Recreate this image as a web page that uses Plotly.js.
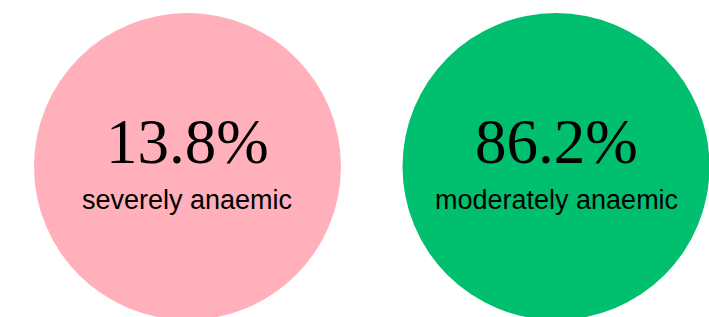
<!DOCTYPE html>
<html>
<head>
<meta charset="utf-8">
<script src="https://cdn.plot.ly/plotly-3.0.1.min.js"></script>
<style>html,body{margin:0;padding:0;background:#fff;}#chart{width:709px;height:317px;}</style>
</head>
<body>
<div id="chart"></div>
<script>
const categories = ["severely anaemic", "moderately anaemic"];
const values = [13.8, 86.2];
const valueLabels = ["13.8%", "86.2%"];
const colors = ["#FFB0BA", "#00BF6F"];

const xs = categories.map((c, i) => i);
const ys = categories.map(() => 0);

const trace = {
  type: "scatter",
  mode: "markers",
  x: xs,
  y: ys,
  marker: { size: 307, color: colors, line: { width: 0 }, opacity: 1 },
  hoverinfo: "skip",
  showlegend: false,
  cliponaxis: true
};

const annotations = [];
categories.forEach((c, i) => {
  annotations.push({
    x: xs[i], y: ys[i], xref: "x", yref: "y",
    text: valueLabels[i], showarrow: false,
    xanchor: "center", yanchor: "middle", yshift: 24,
    font: { family: "Liberation Serif, serif", size: 63, color: "#000" }
  });
  annotations.push({
    x: xs[i], y: ys[i], xref: "x", yref: "y",
    text: c, showarrow: false,
    xanchor: "center", yanchor: "middle", yshift: -34,
    font: { family: "Liberation Sans, Arial, sans-serif", size: 27, color: "#000" }
  });
});

const layout = {
  width: 709, height: 317,
  margin: { l: 0, r: 0, t: 0, b: 0, pad: 0 },
  paper_bgcolor: "#fff", plot_bgcolor: "#fff",
  xaxis: { range: [-0.5088, 1.4152], visible: false, fixedrange: true },
  yaxis: { range: [-0.904, 1], visible: false, fixedrange: true },
  annotations: annotations,
  showlegend: false
};

Plotly.newPlot("chart", [trace], layout, { displayModeBar: false, staticPlot: true });
</script>
</body>
</html>
